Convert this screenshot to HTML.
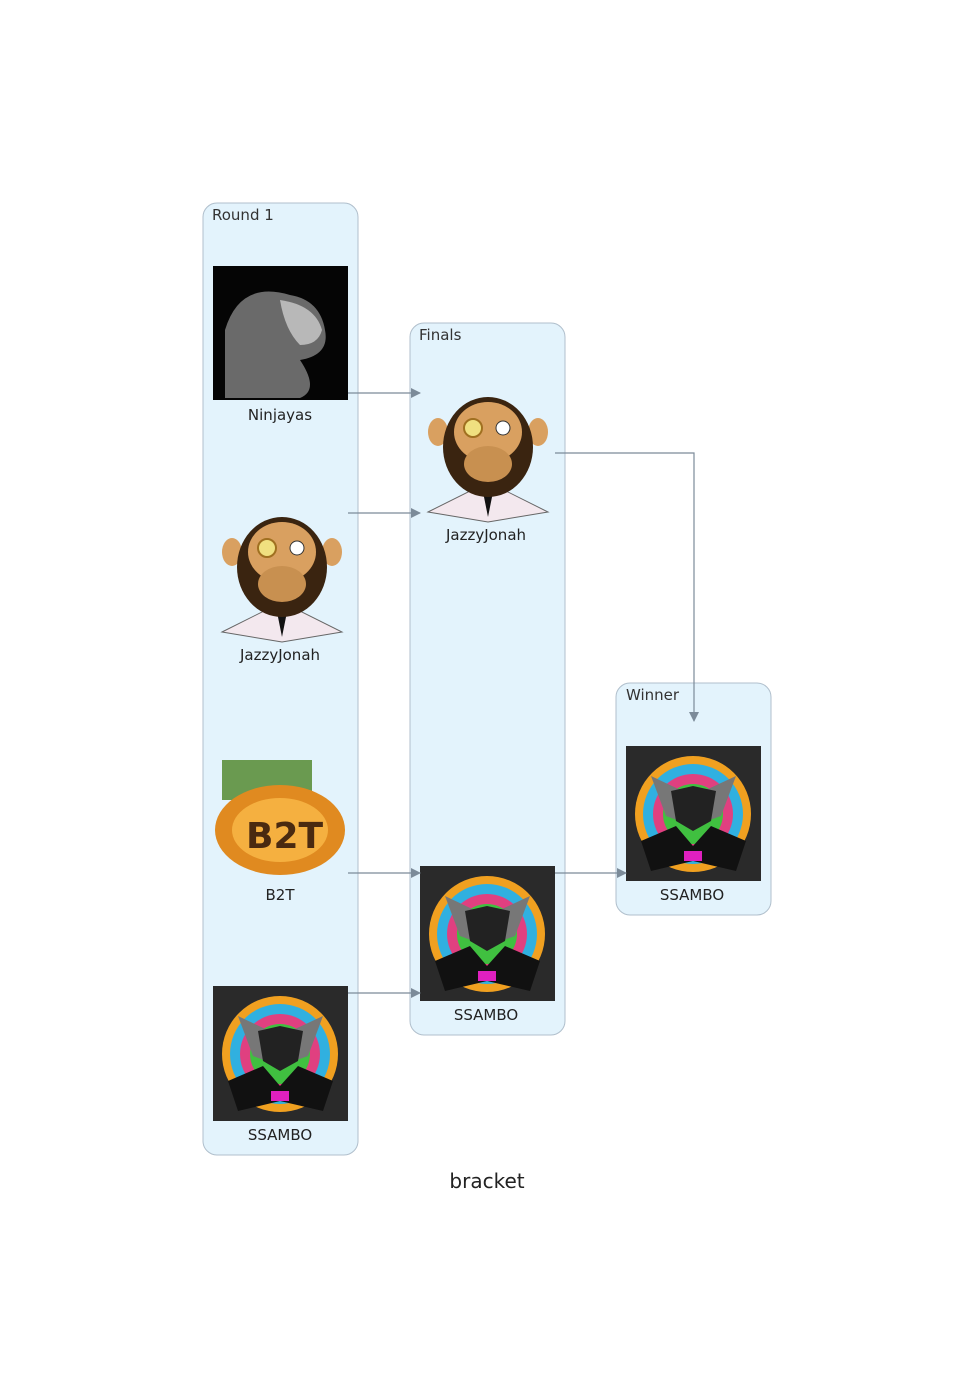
<!DOCTYPE html>
<html><head><meta charset="utf-8"><style>
body{margin:0;background:#fff;width:975px;height:1392px;overflow:hidden}
svg text{font-family:"DejaVu Sans","Liberation Sans",sans-serif}
</style></head><body>
<svg width="975" height="1392" viewBox="0 0 975 1392" xmlns="http://www.w3.org/2000/svg">
<defs>
<marker id="ar" markerWidth="10" markerHeight="10" refX="9" refY="5" orient="auto" markerUnits="userSpaceOnUse"><path d="M0,0 L10,5 L0,10 Z" fill="#7c8b99"/></marker>
<g id="ss">
<rect width="135" height="135" fill="#2a2a2a"/>
<circle cx="67" cy="68" r="58" fill="#f0a020"/>
<circle cx="67" cy="68" r="50" fill="#30b0e0"/>
<circle cx="67" cy="68" r="40" fill="#e04080"/>
<circle cx="67" cy="68" r="30" fill="#40c040"/>
<path d="M25,30 L67,50 L110,30 L95,70 L67,80 L40,70 Z" fill="#777"/>
<path d="M45,45 L67,40 L90,45 L85,75 L67,85 L50,75 Z" fill="#222"/>
<path d="M15,95 L50,80 L67,100 L85,80 L120,95 L110,125 L67,115 L25,125 Z" fill="#111"/>
<rect x="58" y="105" width="18" height="10" fill="#e020c0"/>
</g>
<g id="mk">
<path d="M0,120 L60,90 L120,120 L60,130 Z" fill="#f3e8ee" stroke="#666" stroke-width="1"/>
<path d="M55,100 L60,125 L65,100 Z" fill="#111"/>
<ellipse cx="10" cy="40" rx="10" ry="14" fill="#d9a060"/>
<ellipse cx="110" cy="40" rx="10" ry="14" fill="#d9a060"/>
<ellipse cx="60" cy="55" rx="45" ry="50" fill="#3a2410"/>
<ellipse cx="60" cy="40" rx="34" ry="30" fill="#d9a060"/>
<ellipse cx="60" cy="72" rx="24" ry="18" fill="#c89050"/>
<circle cx="45" cy="36" r="9" fill="#f0e080" stroke="#a07020" stroke-width="2"/>
<circle cx="75" cy="36" r="7" fill="#fff" stroke="#333"/>
</g>
</defs>
<rect x="203" y="203" width="155" height="952" rx="14" fill="#e3f3fc" stroke="#b0bfcc"/>
<rect x="410" y="323" width="155" height="712" rx="14" fill="#e3f3fc" stroke="#b0bfcc"/>
<rect x="616" y="683" width="155" height="232" rx="14" fill="#e3f3fc" stroke="#b0bfcc"/>
<g font-size="15" fill="#333">
<text x="212" y="220">Round 1</text>
<text x="419" y="340">Finals</text>
<text x="626" y="700">Winner</text>
</g>
<rect x="213" y="266" width="135" height="134" fill="#050505"/>
<path d="M225,330 Q240,280 290,295 Q320,300 325,330 Q330,355 300,360 Q320,390 300,398 L225,398 Z" fill="#6a6a6a"/>
<path d="M280,300 Q315,305 322,330 Q318,345 300,345 Q285,330 280,300Z" fill="#b8b8b8"/>
<use href="#mk" x="222" y="512"/>
<use href="#mk" x="428" y="392"/>
<g>
<rect x="222" y="760" width="90" height="40" fill="#6a9a50"/>
<ellipse cx="280" cy="830" rx="65" ry="45" fill="#e08a20"/>
<ellipse cx="280" cy="830" rx="48" ry="32" fill="#f5b040"/>
<text x="246" y="848" font-size="36" font-weight="bold" fill="#4a2a10">B2T</text>
</g>
<use href="#ss" x="213" y="986"/>
<use href="#ss" x="420" y="866"/>
<use href="#ss" x="626" y="746"/>
<g font-size="15" fill="#222" text-anchor="middle">
<text x="280" y="420">Ninjayas</text>
<text x="280" y="660">JazzyJonah</text>
<text x="280" y="900">B2T</text>
<text x="280" y="1140">SSAMBO</text>
<text x="486" y="540">JazzyJonah</text>
<text x="486" y="1020">SSAMBO</text>
<text x="692" y="900">SSAMBO</text>
</g>
<g stroke="#7c8b99" stroke-width="1.2" fill="none" marker-end="url(#ar)">
<line x1="348" y1="393" x2="420" y2="393"/>
<line x1="348" y1="513" x2="420" y2="513"/>
<line x1="348" y1="873" x2="420" y2="873"/>
<line x1="348" y1="993" x2="420" y2="993"/>
<polyline points="555,453 694,453 694,721"/>
<line x1="555" y1="873" x2="626" y2="873"/>
</g>
<text x="487" y="1188" font-size="20" fill="#222" text-anchor="middle">bracket</text>
</svg>
</body></html>
